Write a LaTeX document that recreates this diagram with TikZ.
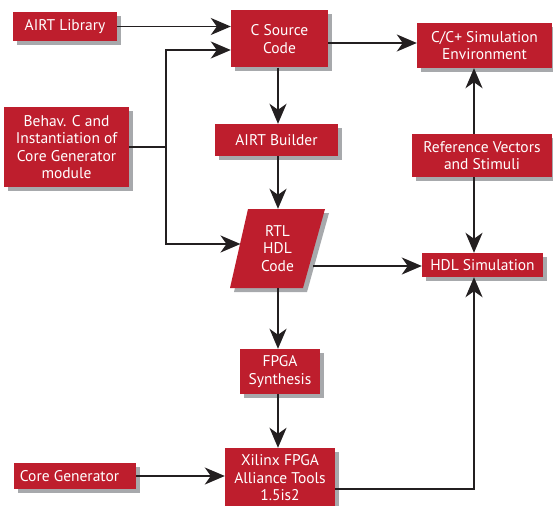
\documentclass[tikz,border=0pt]{standalone}
\usepackage{fontspec}
\setmainfont{PT Sans}
\usetikzlibrary{arrows.meta,shadows}
\definecolor{boxred}{RGB}{190,30,45}
\definecolor{shadowgray}{RGB}{167,169,172}
\definecolor{linek}{RGB}{35,31,32}
\begin{document}
\begin{tikzpicture}[x=1pt,y=-1pt,
  boxfont/.style={font=\fontsize{15.5}{17.5}\selectfont},
  box/.style={boxfont, fill=boxred, text=white, align=center, inner sep=0pt,
    drop shadow={fill=shadowgray, opacity=1, shadow xshift=4pt, shadow yshift=-4pt}},
  conn/.style={draw=linek, line width=1.8pt},
  arr/.style={conn, -{Stealth[length=20pt,width=17pt,inset=6pt]}}]
\useasboundingbox (0,0) rectangle (553,505);

% boxes
\node[box,minimum width=104pt,minimum height=29pt] (lib) at (65,26.5) {AIRT Library};
\node[box,minimum width=97pt,minimum height=57pt] (csrc) at (279.5,39) {C Source\\Code};
\node[box,minimum width=135pt,minimum height=45pt] (csim) at (484.5,45.5) {C/C+ Simulation\\Environment};
\node[box,minimum width=125pt,minimum height=80pt] (behav) at (66.5,147) {Behav. C and\\Instantiation of\\Core Generator\\module};
\node[box,minimum width=123pt,minimum height=32pt] (bld) at (276.5,140) {AIRT Builder};
\node[box,minimum width=140pt,minimum height=43pt] (ref) at (482,155.5) {Reference Vectors\\and Stimuli};
\node[box,minimum width=121pt,minimum height=24pt] (hdl) at (482.5,265) {HDL Simulation};
\node[box,minimum width=80pt,minimum height=45pt] (syn) at (280,371.5) {FPGA\\Synthesis};
\node[box,minimum width=110pt,minimum height=60pt] (xil) at (280,478) {Xilinx FPGA\\Alliance Tools\\1.5is2};
\node[box,minimum width=122pt,minimum height=26pt] (core) at (75,476) {Core Generator\hspace{11pt}};

% RTL HDL Code parallelogram
\fill[shadowgray] (234,292) -- (252,213) -- (329,213) -- (307,292) -- cycle;
\fill[boxred] (230,288) -- (248,209) -- (325,209) -- (303,288) -- cycle;
\node[boxfont, text=white, align=center, inner sep=0pt, minimum width=60pt, minimum height=79pt] (rtl) at (277.5,248.5) {RTL\\HDL\\Code};
\coordinate (rtlin) at (240.5,244);
\coordinate (rtlout) at (313,266);

% helper coordinates
\coordinate (jtop) at (166,50);
\coordinate (jbot) at (166,244);
\coordinate (colA) at (278,0);
\coordinate (colB) at (474,0);

% connectors
\draw[arr] (lib.east) -- (lib.east -| csrc.west);
\draw[conn] (behav.east) -- (behav.east -| jtop);
\draw[arr] (behav.east -| jtop) -- (jtop) -- (jtop -| csrc.west);
\draw[arr] (behav.east -| jtop) -- (jbot) -- (rtlin);
\draw[arr] ([yshift=2.5pt]csim.west -| csrc.east) -- ([yshift=2.5pt]csim.west);
\draw[arr] (csrc.south -| colA) -- (bld.north -| colA);
\draw[arr] (bld.south -| colA) -- (rtl.north -| colA);
\draw[arr] (rtl.south -| colA) -- (syn.north -| colA);
\draw[arr] (syn.south -| colA) -- (xil.north -| colA);
\draw[arr] (core.east) -- (core.east -| xil.west);
\draw[arr] (ref.north -| colB) -- (csim.south -| colB);
\draw[arr] (ref.south -| colB) -- (hdl.north -| colB);
\draw[arr] (rtlout) -- (rtlout -| hdl.west);
\draw[arr] ([yshift=-11pt]xil.east) -| (hdl.south -| colB);
\end{tikzpicture}
\end{document}
